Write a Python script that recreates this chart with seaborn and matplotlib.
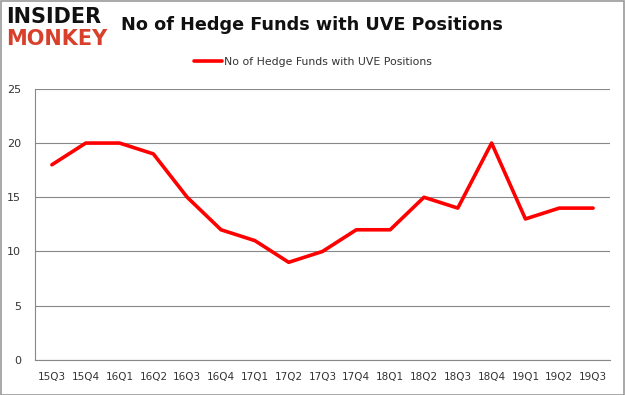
import matplotlib
matplotlib.use("Agg")
import matplotlib.pyplot as plt
import seaborn as sns
import pandas as pd
import numpy as np

quarters = ["15Q3", "15Q4", "16Q1", "16Q2", "16Q3", "16Q4", "17Q1", "17Q2", "17Q3",
            "17Q4", "18Q1", "18Q2", "18Q3", "18Q4", "19Q1", "19Q2", "19Q3"]
funds = [18, 20, 20, 19, 15, 12, 11, 9, 10, 12, 12, 15, 14, 20, 13, 14, 14]
series_name = "No of Hedge Funds with UVE Positions"
y_ticks = [0, 5, 10, 15, 20, 25]

sns.set_theme(style="white")
plt.rcParams['font.family'] = ['DejaVu Sans']

df = pd.DataFrame({"pos": np.arange(len(quarters)), "funds": funds, "series": series_name})

fig = plt.figure(figsize=(6.25, 3.95), dpi=100)
ax = fig.add_axes([0.056, 0.089, 0.92, 0.686])
sns.lineplot(data=df, x="pos", y="funds", hue="series", palette=["#ff0000"],
             linewidth=2.6, ax=ax, legend=True)

ax.set_xlim(-0.5, len(quarters) - 0.5)
ax.set_ylim(0, 25)
ax.set_yticks(y_ticks)
ax.set_yticklabels([str(v) for v in y_ticks], fontsize=8, color="#333333")
ax.set_xticks(np.arange(len(quarters)))
ax.set_xticklabels(quarters, fontsize=7.5, color="#333333")
ax.set_xticks(np.arange(-0.5, len(quarters)), minor=True)
ax.tick_params(axis="x", which="major", length=0, pad=9)
ax.tick_params(axis="x", which="minor", length=4, color="#888888", width=0.8, direction="out")
ax.tick_params(axis="y", length=4, color="#888888", width=0.8, direction="out", pad=6)
ax.yaxis.grid(True, color="#888888", linewidth=0.8)
ax.set_axisbelow(True)
for s in ["top", "right"]:
    ax.spines[s].set_visible(False)
for s in ["left", "bottom"]:
    ax.spines[s].set_color("#888888")
    ax.spines[s].set_linewidth(0.8)
ax.set_xlabel("")
ax.set_ylabel("")

leg = ax.legend(loc="center", bbox_to_anchor=(313 / 625, 1 - 62 / 395),
                bbox_transform=fig.transFigure, frameon=False, fontsize=7.8,
                handlelength=2.6, handletextpad=0.2)
for t in leg.get_texts():
    t.set_color("#333333")

fig.text(312 / 625, 1 - 25 / 395, "No of Hedge Funds with UVE Positions",
         ha="center", va="center", fontsize=12.7, fontweight="bold", color="#111111")
fig.text(6 / 625, 1 - 17 / 395, "INSIDER", ha="left", va="center", fontsize=15,
         fontweight="heavy", color="#111111")
fig.text(6 / 625, 1 - 39 / 395, "MONKEY", ha="left", va="center", fontsize=15,
         fontweight="heavy", color="#d9402c")

border = plt.Rectangle((0.001, 0.001), 0.997, 0.997, transform=fig.transFigure,
                       fill=False, edgecolor="#999999", linewidth=1.2)
fig.add_artist(border)

fig.savefig("out.png", dpi=100)
